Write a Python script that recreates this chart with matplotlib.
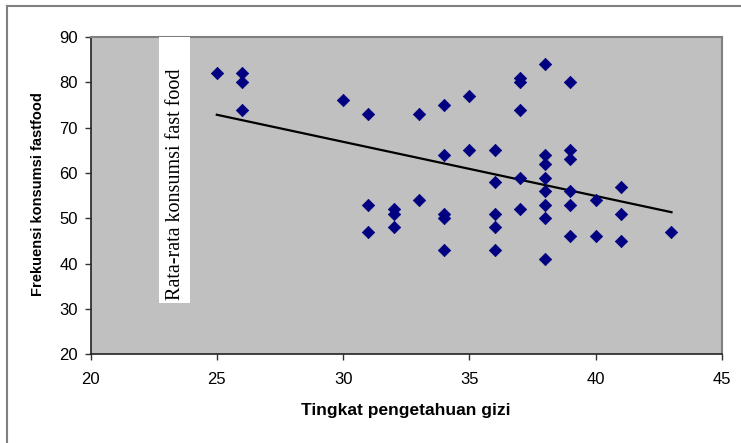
import matplotlib
matplotlib.use("Agg")
import matplotlib.pyplot as plt
from matplotlib import font_manager
from matplotlib.lines import Line2D
from matplotlib.patches import Rectangle
import numpy as np

# ---- data ----
pengetahuan = [25, 26, 26, 26, 30, 31, 31, 31, 32, 32, 32, 33, 33,
               34, 34, 34, 34, 34, 35, 35, 36, 36, 36, 36, 36,
               37, 37, 37, 37, 37, 38, 38, 38, 38, 38, 38, 38, 38,
               39, 39, 39, 39, 39, 39, 40, 40, 41, 41, 41, 43]
frekuensi = [82, 82, 80, 74, 76, 73, 53, 47, 52, 51, 48, 73, 54,
             75, 64, 51, 50, 43, 77, 65, 65, 58, 51, 48, 43,
             81, 80, 74, 59, 52, 84, 64, 62, 59, 56, 53, 50, 41,
             80, 65, 63, 56, 53, 46, 54, 46, 57, 51, 45, 47]
x_ticks = [20, 25, 30, 35, 40, 45]
y_ticks = [20, 30, 40, 50, 60, 70, 80, 90]
x_label = "Tingkat pengetahuan gizi"
y_label = "Frekuensi konsumsi fastfood"
note_text = "Rata-rata konsumsi fast food"

avail = {f.name for f in font_manager.fontManager.ttflist}
sans = "Liberation Sans" if "Liberation Sans" in avail else "DejaVu Sans"
narrow = "Liberation Sans Narrow" if "Liberation Sans Narrow" in avail else sans
serif = "Liberation Serif" if "Liberation Serif" in avail else "DejaVu Serif"

W, H = 741, 443
fig = plt.figure(figsize=(W / 100, H / 100), dpi=100)
fig.patch.set_facecolor("white")

L, R, T, B = 90.5, 722, 37, 354.3
ax = fig.add_axes([L / W, 1 - B / H, (R - L) / W, (B - T) / H])
ax.set_facecolor("#c0c0c0")

ax.scatter(pengetahuan, frekuensi, marker="D", s=40, color="#000080",
           edgecolors="#000080", linewidths=0.5, zorder=3)

# linear trendline
coef = np.polyfit(pengetahuan, frekuensi, 1)
xs = np.array([min(pengetahuan), max(pengetahuan)])
ax.plot(xs, np.polyval(coef, xs), color="black", lw=1.6, zorder=2)

ax.set_xlim(20, 45)
ax.set_ylim(20, 90)
ax.set_xticks(x_ticks)
ax.set_yticks(y_ticks)
ax.tick_params(axis="both", direction="out", length=4, width=1,
               color="#333333", labelsize=12, labelcolor="black")
ax.tick_params(axis="y", pad=5)
ax.tick_params(axis="x", pad=9)
for lbl in ax.get_xticklabels() + ax.get_yticklabels():
    lbl.set_fontfamily(sans)

for s in ["left", "bottom"]:
    ax.spines[s].set_color("#222222")
    ax.spines[s].set_linewidth(1.2)
for s in ["top", "right"]:
    ax.spines[s].set_color("#808080")
    ax.spines[s].set_linewidth(1.5)

fig.text(38 / W, 1 - 194 / H, y_label, rotation=90, ha="center", va="center",
         fontsize=10.5, fontweight="bold", family=narrow)
fig.text(406 / W, 1 - 411 / H, x_label, ha="center", va="center",
         fontsize=12.5, fontweight="bold", family=narrow)

# white annotation box with rotated text
fig.patches.append(Rectangle((159 / W, 1 - 302.5 / H), 31 / W, (302.5 - 37) / H,
                             transform=fig.transFigure, facecolor="white",
                             edgecolor="none", zorder=5))
fig.text(175 / W, 1 - 300 / H, note_text, rotation=90, ha="center", va="bottom",
         fontsize=14.5, family=serif, zorder=6)

# outer chart frame (partially visible)
fig.lines.append(Line2D([7 / W, 1.0], [1 - 6 / H, 1 - 6 / H], transform=fig.transFigure,
                        color="#808080", lw=1.5))
fig.lines.append(Line2D([7 / W, 7 / W], [0, 1 - 6 / H], transform=fig.transFigure,
                        color="#808080", lw=1.5))

fig.savefig("out.png", dpi=100, facecolor="white")
